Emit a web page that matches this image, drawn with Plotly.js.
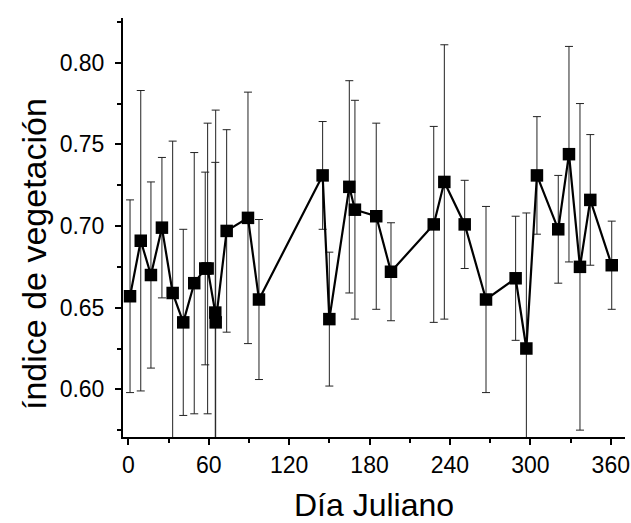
<!DOCTYPE html>
<html>
<head>
<meta charset="utf-8">
<script src="https://cdn.plot.ly/plotly-3.0.1.min.js"></script>
<style>html,body{margin:0;padding:0;background:#fff;}#chart{width:631px;height:523px;}</style>
</head>
<body>
<div id="chart"></div>
<script>
// Julian day of each observation
const dias = [1.3, 9.3, 16.9, 25.1, 33.1, 41.0, 49.2, 57.4, 59.2, 64.9, 65.2, 73.4, 89.3, 97.5,
  145.0, 150.0, 164.9, 169.1, 185.0, 196.0, 227.9, 235.8, 251.0, 266.9,
  289.0, 297.0, 304.9, 320.8, 328.8, 337.0, 344.7, 360.7];
// vegetation index (mean)
const indice = [0.657, 0.691, 0.670, 0.699, 0.659, 0.641, 0.665, 0.674, 0.674, 0.647, 0.641, 0.697, 0.705, 0.655,
  0.731, 0.643, 0.724, 0.710, 0.706, 0.672, 0.701, 0.727, 0.701, 0.655,
  0.668, 0.625, 0.731, 0.698, 0.744, 0.675, 0.716, 0.676];
// symmetric error (half-length of the error bar)
const error = [0.059, 0.092, 0.057, 0.043, 0.093, 0.057, 0.080, 0.059, 0.089, 0.092, 0.130, 0.062, 0.077, 0.049,
  0.033, 0.041, 0.065, 0.067, 0.057, 0.030, 0.060, 0.084, 0.027, 0.057,
  0.038, 0.083, 0.036, 0.033, 0.066, 0.100, 0.040, 0.027];
const xTicks = [0, 60, 120, 180, 240, 300, 360];
const yTicks = [0.60, 0.65, 0.70, 0.75, 0.80];
const yTickText = ['0.60', '0.65', '0.70', '0.75', '0.80'];

const FONT = 'Liberation Sans, Arial, Helvetica, sans-serif';

const trace = {
  x: dias,
  y: indice,
  type: 'scatter',
  mode: 'lines+markers',
  line: {color: '#000', width: 2.2},
  marker: {symbol: 'square', size: 12.5, color: '#000'},
  error_y: {type: 'data', array: error, symmetric: true, visible: true, color: '#222', thickness: 1, width: 4},
  showlegend: false
};

const layout = {
  width: 631, height: 523,
  margin: {l: 123, r: 6, t: 18, b: 86},
  paper_bgcolor: '#fff', plot_bgcolor: '#fff',
  font: {family: FONT, color: '#000'},
  xaxis: {
    range: [-3.95, 370.6],
    tickvals: xTicks,
    ticktext: xTicks.map(String),
    ticks: 'outside', ticklen: 6, tickwidth: 2, tickcolor: '#000',
    minor: {dtick: 30, tick0: 30, ticks: 'outside', ticklen: 4, tickwidth: 2, tickcolor: '#000'},
    showline: true, linecolor: '#000', linewidth: 2, mirror: false,
    showgrid: false, zeroline: false,
    tickfont: {family: FONT, size: 23, color: '#000'},
    ticklabelstandoff: 0,
    title: {text: 'Día Juliano', font: {family: FONT, size: 32, color: '#000'}, standoff: 17}
  },
  yaxis: {
    range: [0.5708, 0.8274],
    tickvals: yTicks,
    ticktext: yTickText,
    ticks: 'outside', ticklen: 6, tickwidth: 2, tickcolor: '#000',
    minor: {dtick: 0.05, tick0: 0.575, ticks: 'outside', ticklen: 4, tickwidth: 2, tickcolor: '#000'},
    showline: true, linecolor: '#000', linewidth: 2, mirror: false,
    showgrid: false, zeroline: false,
    tickfont: {family: FONT, size: 23, color: '#000'},
    ticklabelstandoff: 6
  },
  annotations: [{
    text: 'índice de vegetación',
    xref: 'paper', yref: 'paper',
    x: (34 - 123) / 502, y: (437 - 254) / 419,
    xanchor: 'center', yanchor: 'middle',
    textangle: -90, showarrow: false,
    font: {family: FONT, size: 34, color: '#000'}
  }]
};

Plotly.newPlot('chart', [trace], layout, {displayModeBar: false, staticPlot: true});
</script>
</body>
</html>
